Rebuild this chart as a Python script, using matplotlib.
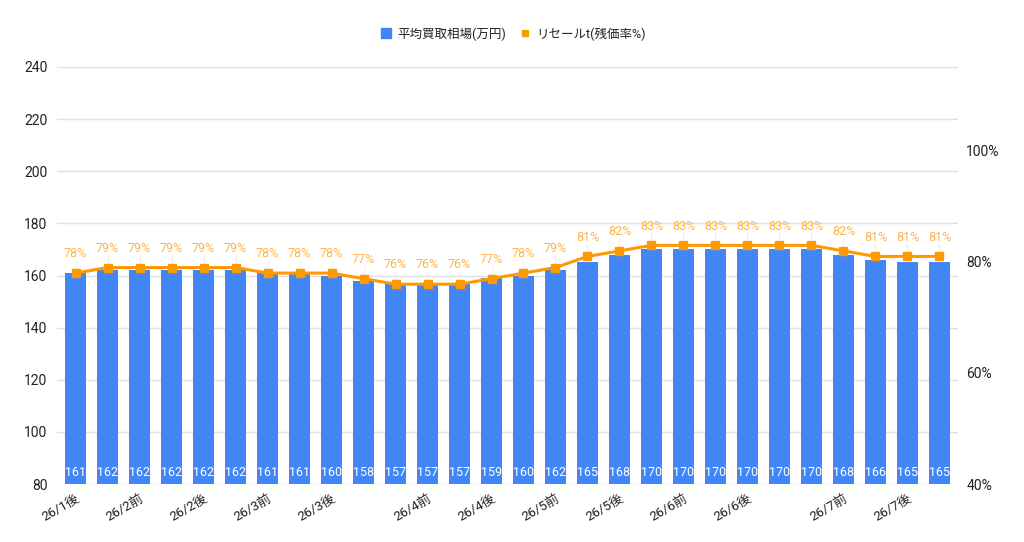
import matplotlib.pyplot as plt
import numpy as np
from matplotlib.lines import Line2D

plt.rcParams['font.family'] = ['Roboto', 'Noto Sans CJK JP', 'DejaVu Sans']

periods = ['26/1後', '26/1後', '26/2前', '26/2前', '26/2後', '26/2後',
           '26/3前', '26/3前', '26/3後', '26/3後', '26/3後',
           '26/4前', '26/4前', '26/4後', '26/4後', '26/5前', '26/5前',
           '26/5後', '26/5後', '26/6前', '26/6前', '26/6後', '26/6後', '26/6後',
           '26/7前', '26/7前', '26/7後', '26/7後']
price = [161, 162, 162, 162, 162, 162, 161, 161, 160, 158, 157, 157, 157, 159,
         160, 162, 165, 168, 170, 170, 170, 170, 170, 170, 168, 166, 165, 165]
resale = [78, 79, 79, 79, 79, 79, 78, 78, 78, 77, 76, 76, 76, 77,
          78, 79, 81, 82, 83, 83, 83, 83, 83, 83, 82, 81, 81, 81]

BLUE = '#4285F4'
ORANGE = '#FF9900'
LABEL_ORANGE = '#FFB445'

fig = plt.figure(figsize=(10.24, 5.42), dpi=100)
ax = fig.add_axes([57 / 1024, 1 - 484 / 542, (958 - 57) / 1024, (484 - 67) / 542])
ax2 = ax.twinx()

x = np.arange(len(price))
ax.bar(x, price, width=0.65, color=BLUE, zorder=2)
ax.set_ylim(80, 240)
ax.set_yticks(range(80, 241, 20))
ax.set_xlim(-0.58, len(price) - 0.42)
ax.grid(axis='y', color='#e0e0e0', linewidth=1, zorder=0)
ax.set_axisbelow(True)
for s in ax.spines.values():
    s.set_visible(False)
for s in ax2.spines.values():
    s.set_visible(False)
ax.tick_params(axis='y', length=0, labelsize=10, labelcolor='#222222', pad=7)

# show only the first label of each period
shown = [i for i in range(len(periods)) if i == 0 or periods[i] != periods[i - 1]]
ax.set_xticks(shown)
ax.set_xticklabels([periods[i] for i in shown], rotation=30, ha='right',
                   rotation_mode='anchor', fontsize=9.5, color='#222222')
ax.tick_params(axis='x', length=0, pad=6)

for xi, v in zip(x, price):
    ax.text(xi, 82.0, str(v), ha='center', va='bottom', color='white', fontsize=9, zorder=3)

ax2.plot(x, resale, color=ORANGE, linewidth=2.2, marker='s', markersize=6, zorder=4)
ax2.set_ylim(40, 40 + 417 / 111 * 20)
ax2.set_yticks([40, 60, 80, 100])
ax2.set_yticklabels(['40%', '60%', '80%', '100%'])
ax2.tick_params(axis='y', length=0, labelsize=10, labelcolor='#222222', pad=6)
for xi, v in zip(x, resale):
    ax2.plot([xi, xi], [v, v + 2.2], color='#eeeeee', linewidth=0.8, zorder=1)
    ax2.text(xi, v + 2.3, f'{v}%', ha='center', va='bottom', color=LABEL_ORANGE, fontsize=9)

handles = [Line2D([], [], linestyle='none', marker='s', markersize=6.5, color=BLUE),
           Line2D([], [], linestyle='none', marker='s', markersize=5, color=ORANGE)]
fig.legend(handles, ['平均買取相場(万円)', 'リセールt(残価率%)'], loc='center',
           bbox_to_anchor=(512 / 1024, 1 - 34 / 542), ncol=2, frameon=False, fontsize=9,
           handletextpad=0.3, columnspacing=0.9, handlelength=1.2, labelcolor='#222222')

fig.savefig('out.png', dpi=100)
